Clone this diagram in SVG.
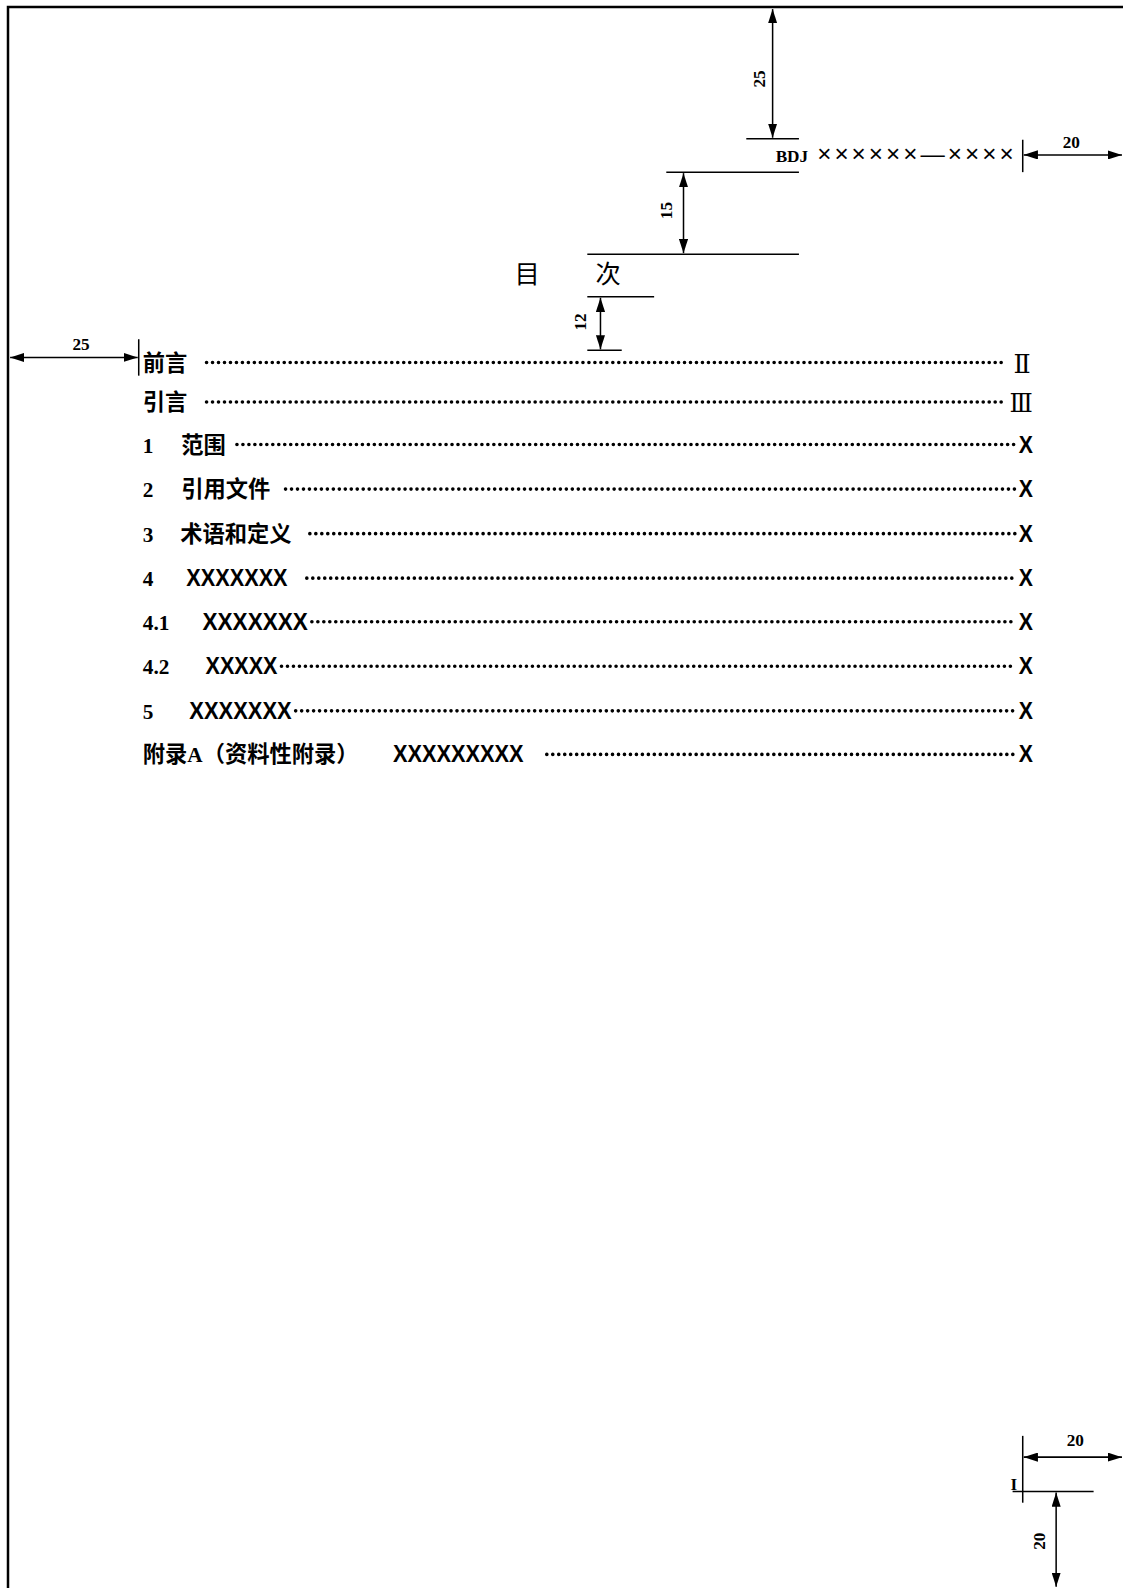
<svg xmlns="http://www.w3.org/2000/svg" width="1123" height="1588" viewBox="0 0 1123 1588">
<defs>
<marker id="ah" viewBox="0 0 14 9" refX="14" refY="4.5" markerWidth="14" markerHeight="9" markerUnits="userSpaceOnUse" orient="auto-start-reverse">
<path d="M0,0 L14,4.5 L0,9 Z" fill="#000"/>
</marker>
<style>
.ln{stroke:#000;stroke-width:1.5;fill:none}
.dim{stroke:#000;stroke-width:1.5;fill:none;marker-start:url(#ah);marker-end:url(#ah)}
.frame{stroke:#000;stroke-width:2.5;fill:none}
.num{font-family:"Liberation Serif",serif;font-weight:bold;font-size:17px;fill:#000}
.cn{font-family:"Noto Sans CJK SC",sans-serif;font-weight:700;font-size:22px;fill:#000}
.tn{font-family:"Liberation Serif","Noto Sans CJK SC",serif;font-weight:bold;font-size:21px;fill:#000}
.xx{font-family:"Liberation Sans",sans-serif;font-weight:bold;font-size:23px;fill:#000}
.rn{font-family:"DejaVu Serif",serif;font-size:25px;fill:#000}
.dots{stroke:#000;stroke-width:3.6;stroke-linecap:round;stroke-dasharray:0 5.9;fill:none}
.title{font-family:"Noto Sans CJK SC",sans-serif;font-size:25px;fill:#000}
</style>
</defs>

<g id="frame">
<path class="frame" d="M8,1588 L8,7 L1123,7"/>
</g>

<g transform="scale(1.0126)">
<g id="connectors">
<line class="dim" x1="763" y1="9" x2="763" y2="136"/>
<line class="ln" x1="737" y1="137" x2="789" y2="137"/>
<line class="ln" x1="658" y1="170" x2="789" y2="170"/>
<line class="dim" x1="675" y1="171" x2="675" y2="250"/>
<line class="ln" x1="580" y1="251" x2="789" y2="251"/>
<line class="ln" x1="1010" y1="138" x2="1010" y2="170"/>
<line class="dim" x1="1011" y1="153" x2="1108" y2="153"/>
<line class="ln" x1="580" y1="293" x2="646" y2="293"/>
<line class="dim" x1="593" y1="294" x2="593" y2="345"/>
<line class="ln" x1="580" y1="346" x2="614" y2="346"/>
<line class="dim" x1="10" y1="353" x2="136" y2="353"/>
<line class="ln" x1="137" y1="335" x2="137" y2="371"/>
<line class="ln" x1="1010" y1="1418" x2="1010" y2="1484"/>
<line class="dim" x1="1011" y1="1439" x2="1108" y2="1439"/>
<line class="ln" x1="1000" y1="1473" x2="1080" y2="1473"/>
<line class="dim" x1="1043" y1="1474" x2="1043" y2="1567"/>
</g>

<g id="dim-labels">
<text class="num" transform="translate(755,78) rotate(-90)" text-anchor="middle">25</text>
<text class="num" transform="translate(664,208) rotate(-90)" text-anchor="middle">15</text>
<text class="num" transform="translate(579,318) rotate(-90)" text-anchor="middle">12</text>
<text class="num" x="1058" y="146" text-anchor="middle">20</text>
<text class="num" x="80" y="346" text-anchor="middle">25</text>
<text class="num" x="1062" y="1428" text-anchor="middle">20</text>
<text class="num" transform="translate(1032,1522) rotate(-90)" text-anchor="middle">20</text>
<text class="num" x="998" y="1471" font-size="24">I</text>
</g>

<g id="header">
<text x="766" y="160" class="num" font-size="16">BDJ</text>
<text x="807" y="160" font-family="Liberation Sans,sans-serif" font-size="24" letter-spacing="3">××××××—××××</text>
</g>

<g id="title">
<text class="title" x="508" y="279">目</text>
<text class="title" x="588" y="279">次</text>
</g>

<g id="toc">
<g id="row-qianyan">
<text class="cn" x="141" y="366">前言</text>
<line class="dots" x1="204" y1="358" x2="994" y2="358"/>
<text class="rn" x="1001" y="368">Ⅱ</text>
</g>
<g id="row-yinyan">
<text class="cn" x="141" y="405">引言</text>
<line class="dots" x1="204" y1="397" x2="994" y2="397"/>
<text class="rn" x="997" y="407" textLength="23" lengthAdjust="spacingAndGlyphs">Ⅲ</text>
</g>
<g id="row-1">
<text class="tn" x="141" y="447">1</text>
<text class="cn" x="179" y="447">范围</text>
<line class="dots" x1="234" y1="439" x2="1003" y2="439"/>
<text class="xx" x="1006" y="447" textLength="14" lengthAdjust="spacingAndGlyphs">X</text>
</g>
<g id="row-2">
<text class="tn" x="141" y="491">2</text>
<text class="cn" x="179" y="491">引用文件</text>
<line class="dots" x1="282" y1="483" x2="1003" y2="483"/>
<text class="xx" x="1006" y="491" textLength="14" lengthAdjust="spacingAndGlyphs">X</text>
</g>
<g id="row-3">
<text class="tn" x="141" y="535">3</text>
<text class="cn" x="178" y="535">术语和定义</text>
<line class="dots" x1="306" y1="527" x2="1003" y2="527"/>
<text class="xx" x="1006" y="535" textLength="14" lengthAdjust="spacingAndGlyphs">X</text>
</g>
<g id="row-4">
<text class="tn" x="141" y="579">4</text>
<text class="xx" x="184" y="579" textLength="100" lengthAdjust="spacingAndGlyphs">XXXXXXX</text>
<line class="dots" x1="303" y1="571" x2="1003" y2="571"/>
<text class="xx" x="1006" y="579" textLength="14" lengthAdjust="spacingAndGlyphs">X</text>
</g>
<g id="row-4-1">
<text class="tn" x="141" y="622">4.1</text>
<text class="xx" x="200" y="622" textLength="104" lengthAdjust="spacingAndGlyphs">XXXXXXX</text>
<line class="dots" x1="308" y1="614" x2="1003" y2="614"/>
<text class="xx" x="1006" y="622" textLength="14" lengthAdjust="spacingAndGlyphs">X</text>
</g>
<g id="row-4-2">
<text class="tn" x="141" y="666">4.2</text>
<text class="xx" x="203" y="666" textLength="71" lengthAdjust="spacingAndGlyphs">XXXXX</text>
<line class="dots" x1="278" y1="658" x2="1003" y2="658"/>
<text class="xx" x="1006" y="666" textLength="14" lengthAdjust="spacingAndGlyphs">X</text>
</g>
<g id="row-5">
<text class="tn" x="141" y="710">5</text>
<text class="xx" x="187" y="710" textLength="101" lengthAdjust="spacingAndGlyphs">XXXXXXX</text>
<line class="dots" x1="292" y1="702" x2="1003" y2="702"/>
<text class="xx" x="1006" y="710" textLength="14" lengthAdjust="spacingAndGlyphs">X</text>
</g>
<g id="row-appendix">
<text class="cn" x="141" y="753">附录<tspan class="tn">A</tspan>（资料性附录）</text>
<text class="xx" x="388" y="753" textLength="129" lengthAdjust="spacingAndGlyphs">XXXXXXXXX</text>
<line class="dots" x1="540" y1="745" x2="1003" y2="745"/>
<text class="xx" x="1006" y="753" textLength="14" lengthAdjust="spacingAndGlyphs">X</text>
</g>
</g>
</g>
</svg>
